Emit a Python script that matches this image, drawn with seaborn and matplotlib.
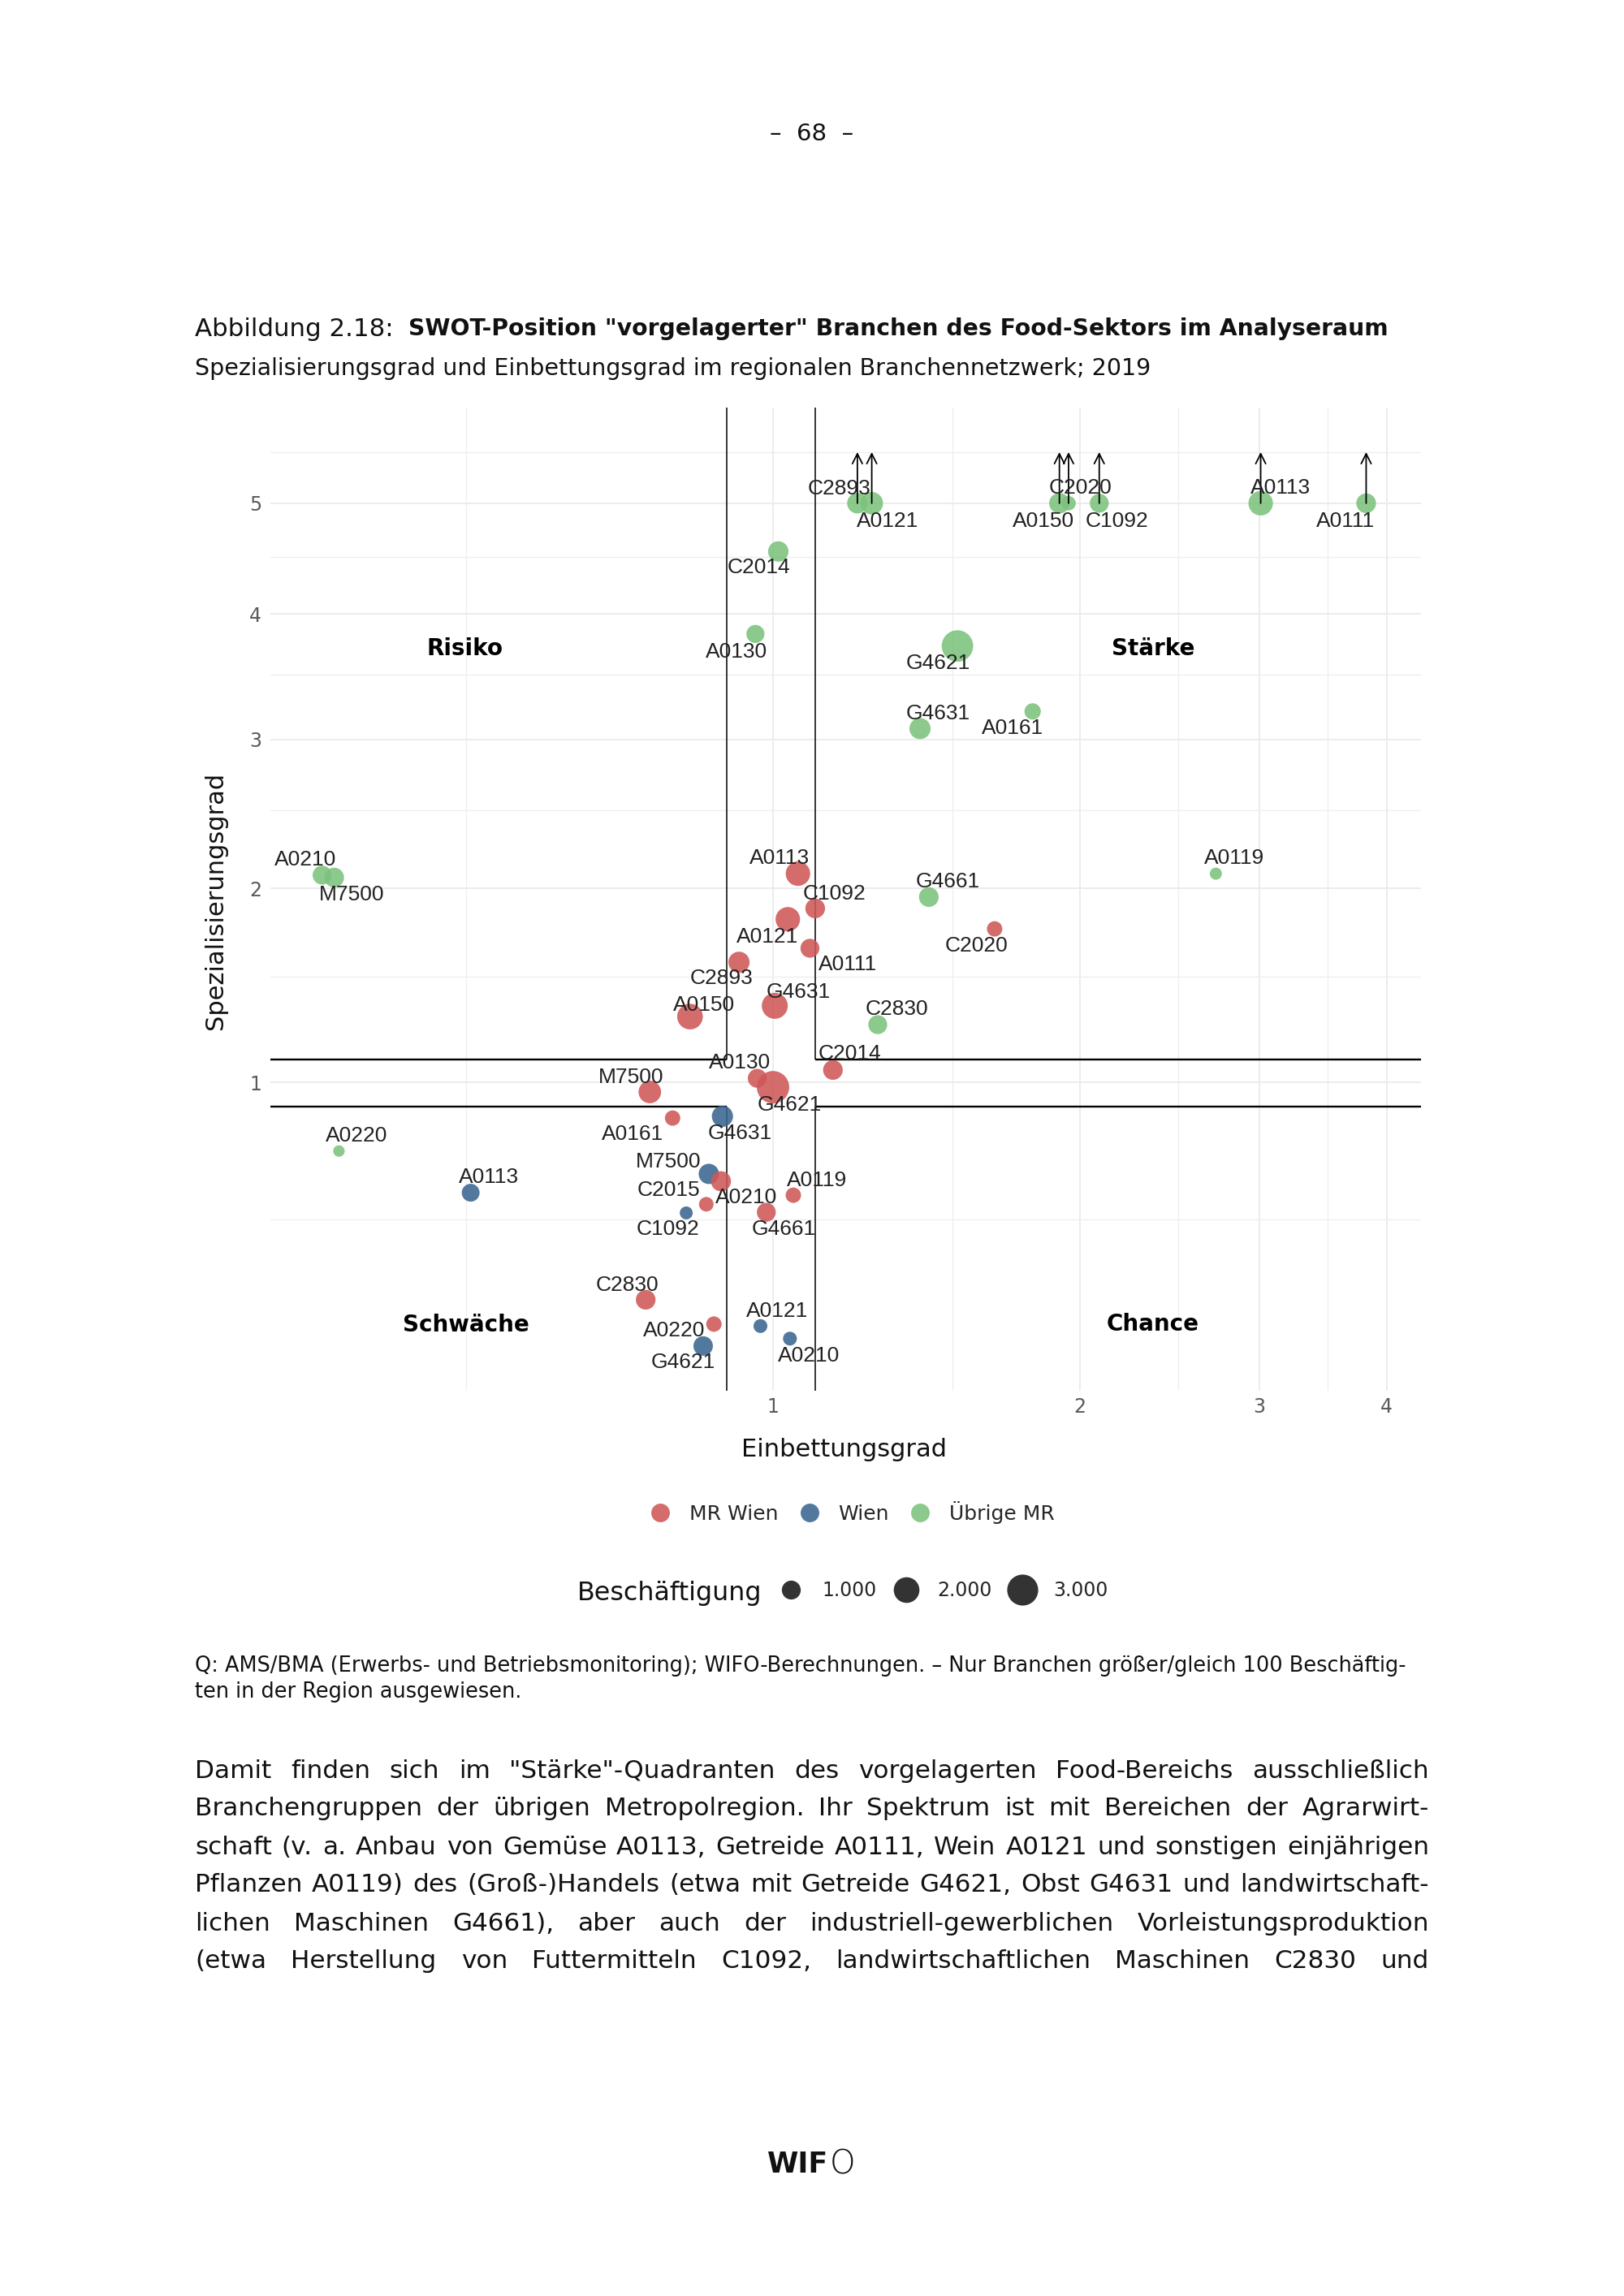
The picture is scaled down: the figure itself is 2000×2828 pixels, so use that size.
import numpy as np
import pandas as pd
import matplotlib
matplotlib.use("Agg")
import matplotlib.pyplot as plt
import seaborn as sns
from matplotlib.lines import Line2D
from matplotlib.ticker import FixedLocator, FixedFormatter, NullFormatter

# ---------------- data ----------------
groups = ["Wien", "MR Wien", "Übrige MR"]

wien_names = ["G4631", "A0113", "M7500", "C1092", "A0121", "A0210", "G4621"]
wien_einb = [0.892, 0.505, 0.865, 0.822, 0.972, 1.039, 0.854]
wien_spez = [0.860, 0.584, 0.647, 0.520, 0.230, 0.205, 0.191]
wien_emp = [1300, 870, 1180, 370, 450, 450, 1070]

mr_names = ["A0113", "C1092", "A0121", "A0111", "C2893", "G4631", "A0150", "C2020",
            "C2014", "A0130", "G4621", "M7500", "A0161", "A0210", "C2015", "A0119",
            "G4661", "C2830", "A0220"]
mr_einb = [1.058, 1.100, 1.034, 1.087, 0.926, 1.004, 0.829, 1.650, 1.145, 0.965,
           1.000, 0.757, 0.797, 0.889, 0.860, 1.047, 0.985, 0.750, 0.875]
mr_spez = [2.089, 1.880, 1.817, 1.654, 1.578, 1.353, 1.300, 1.762, 1.053, 1.017,
           0.979, 0.959, 0.853, 0.622, 0.547, 0.576, 0.522, 0.287, 0.234]
mr_emp = [1800, 1100, 1800, 1000, 1300, 2050, 2000, 600, 1100, 1000,
          3300, 1500, 600, 1150, 520, 600, 1000, 1100, 600]

ub_names = ["C2893", "A0121", "A0150", "C2020", "C1092", "A0113", "A0111", "C2014",
            "A0130", "G4621", "G4631", "A0161", "A0210", "M7500", "G4661", "A0119",
            "C2830", "A0220"]
ub_einb = [1.21, 1.25, 1.91, 1.95, 2.09, 3.01, 3.82, 1.012, 0.961, 1.517, 1.394,
           1.798, 0.361, 0.371, 1.422, 2.72, 1.267, 0.375]
# values above the cap (5) are shown at the cap with an arrow
ub_spez = [5.0, 5.0, 5.0, 5.0, 5.0, 5.0, 5.0, 4.55, 3.83, 3.73, 3.08, 3.21,
           2.08, 2.065, 1.947, 2.089, 1.261, 0.728]
ub_over = [True] * 7 + [False] * 11
ub_emp = [1200, 1500, 1200, 500, 1000, 1800, 1100, 1200, 900, 3100, 1300, 700,
          1000, 1100, 1100, 300, 1000, 250]

x_ticks = [1, 2, 3, 4]
x_minor = [0.5, 1.5, 2.5, 3.5]
y_ticks = [1, 2, 3, 4, 5]
y_minor = [0.5, 1.5, 2.5, 3.5, 4.5, 5.5]
legend_emp = [1000, 2000, 3000]
legend_emp_labels = ["1.000", "2.000", "3.000"]

# ---------------- layout (label offsets in px: dx right, dy down) ----------------
off_wien = [(21, 21), (22, -19), (-50, -15), (-23, 20), (21, -18), (23, 21), (-25, 20)]
off_mr = [(-23, -19), (24, -18), (-25, 22), (47, 20), (-22, 20), (29, -17), (17, -14),
          (-22, 21), (21, -20), (-22, -19), (20, 22), (-23, -18), (-49, 20), (31, 20),
          (-46, -17), (29, -18), (21, 21), (-23, -18), (-49, 8)]
off_ub = [(-22, -18), (19, 22), (-20, 22), (15, -19), (22, 22), (24, -19), (-25, 22),
          (-24, 20), (-23, 22), (-24, 21), (22, -18), (-25, 21), (-21, -19), (22, 21),
          (23, -19), (23, -19), (23, -19), (22, -19)]

CAP, ARROW_TOP = 5.0, 5.5
LO, HI = 0.9, 1.1
XLIM = (0.3212, 4.324)
YLIM = (0.1166, 5.955)

RED, BLUE, GREEN = "#D05858", "#3A6690", "#7CC27C"
palette = {"MR Wien": RED, "Wien": BLUE, "Übrige MR": GREEN}
EMP_NORM = (0, 4000)
S_RANGE = (44.1, 44.1 + 0.2372 * 4000)   # marker area (pt^2)
ALPHA = 0.88

W, H = 2000, 2828
PX = 100 / 72.0

sns.set_style("white")
plt.rcParams["font.family"] = ["DejaVu Sans"]

fig = plt.figure(figsize=(W / 100, H / 100), dpi=100)
fig.patch.set_facecolor("white")
ax = fig.add_axes([333 / W, 1 - 1713 / H, 1417 / W, 1211 / H])

df = pd.DataFrame({
    "group": ["Wien"] * len(wien_names) + ["MR Wien"] * len(mr_names) + ["Übrige MR"] * len(ub_names),
    "name": wien_names + mr_names + ub_names,
    "einb": wien_einb + mr_einb + ub_einb,
    "spez": wien_spez + mr_spez + ub_spez,
    "emp": wien_emp + mr_emp + ub_emp,
    "over": [False] * len(wien_names) + [False] * len(mr_names) + ub_over,
})
offsets = off_wien + off_mr + off_ub

ax.set_xscale("log")
ax.set_yscale("function", functions=(lambda v: np.sqrt(np.clip(v, 0, None)), np.square))

sns.scatterplot(data=df, x="einb", y="spez", hue="group", palette=palette,
                size="emp", sizes=S_RANGE, size_norm=EMP_NORM,
                alpha=ALPHA, linewidth=0, legend=False, ax=ax, zorder=3)

ax.set_xlim(*XLIM)
ax.set_ylim(*YLIM)

ax.xaxis.set_major_locator(FixedLocator(x_ticks))
ax.xaxis.set_major_formatter(FixedFormatter([str(t) for t in x_ticks]))
ax.xaxis.set_minor_locator(FixedLocator(x_minor))
ax.xaxis.set_minor_formatter(NullFormatter())
ax.yaxis.set_major_locator(FixedLocator(y_ticks))
ax.yaxis.set_major_formatter(FixedFormatter([str(t) for t in y_ticks]))
ax.yaxis.set_minor_locator(FixedLocator(y_minor))
ax.yaxis.set_minor_formatter(NullFormatter())

ax.grid(which="major", color="#EBEBEB", lw=1.3)
ax.grid(which="minor", color="#EEEEEE", lw=0.9)
ax.set_axisbelow(True)
for s in ax.spines.values():
    s.set_visible(False)
ax.tick_params(which="both", length=0)
ax.tick_params(axis="y", pad=8, labelsize=17, labelcolor="#5A5A5A")
ax.tick_params(axis="x", pad=6, labelsize=17, labelcolor="#5A5A5A")
ax.set_xlabel("")
ax.set_ylabel("")

# quadrant boundaries
hkw = dict(color="black", lw=1.7, zorder=2, solid_capstyle="butt")
vkw = dict(color="black", lw=1.1, zorder=2, solid_capstyle="butt")
ax.plot([XLIM[0], LO], [HI, HI], **hkw)
ax.plot([HI, XLIM[1]], [HI, HI], **hkw)
ax.plot([XLIM[0], LO], [LO, LO], **hkw)
ax.plot([HI, XLIM[1]], [LO, LO], **hkw)
ax.plot([LO, LO], [HI, YLIM[1]], **vkw)
ax.plot([HI, HI], [HI, YLIM[1]], **vkw)
ax.plot([LO, LO], [YLIM[0], LO], **vkw)
ax.plot([HI, HI], [YLIM[0], LO], **vkw)

# arrows for capped values
for _, r in df[df["over"]].iterrows():
    ax.annotate("", xy=(r["einb"], ARROW_TOP), xytext=(r["einb"], CAP),
                arrowprops=dict(arrowstyle="->", lw=1.3, color="black",
                                mutation_scale=22, shrinkA=0, shrinkB=0),
                zorder=4)

# point labels
for (_, r), (dx, dy) in zip(df.iterrows(), offsets):
    ax.annotate(r["name"], (r["einb"], r["spez"]), xytext=(dx / PX, -dy / PX),
                textcoords="offset points", ha="center", va="center",
                fontsize=19, family="Liberation Sans", color="#222222", zorder=5)

# quadrant names
quad = [("Risiko", 0.498, 3.71), ("Stärke", 2.36, 3.71),
        ("Schwäche", 0.50, 0.232), ("Chance", 2.36, 0.234)]
for s, qx, qy in quad:
    ax.text(qx, qy, s, ha="center", va="center", fontsize=20, fontweight="bold",
            color="black", zorder=5)

# ---------------- page texts ----------------
renderer = fig.canvas.get_renderer()


def tw(t):
    return t.get_window_extent(renderer=renderer).width


def fit_text(x, y, s, target, fs, **kw):
    t = fig.text(x / W, 1 - y / H, s, fontsize=fs, va="center_baseline", **kw)
    t.set_fontsize(fs * target / tw(t))
    return t


fig.text(1000 / W, 1 - 162 / H, "–  68  –", ha="center", va="center_baseline",
         fontsize=21, color="#111111")

fit_text(240, 402, "Abbildung 2.18:", 245, 20, color="#111111")
fit_text(503, 402, 'SWOT-Position "vorgelagerter" Branchen des Food-Sektors im Analyseraum',
         1207, 20, fontweight="bold", color="#111111")
fit_text(240, 451, "Spezialisierungsgrad und Einbettungsgrad im regionalen Branchennetzwerk; 2019",
         1179, 17, color="#111111")

# axis titles
fig.text(1040 / W, 1 - 1785 / H, "Einbettungsgrad", ha="center", va="center",
         fontsize=22, color="#111111")
fig.text(265 / W, 1 - 1109 / H, "Spezialisierungsgrad", ha="center", va="center",
         rotation=90, fontsize=22, color="#111111")

# colour legend
h1 = [Line2D([0], [0], marker="o", linestyle="", markersize=16.5,
             markerfacecolor=palette[g], markeredgewidth=0, alpha=ALPHA, label=g)
      for g in ["MR Wien", "Wien", "Übrige MR"]]
fig.legend(handles=h1, loc="center left", bbox_to_anchor=(800.5 / W, 1 - 1863 / H),
           ncol=3, frameon=False, prop={"family": "DejaVu Sans", "size": 18},
           handlelength=1.0, handletextpad=0.94, columnspacing=1.02,
           borderpad=0, borderaxespad=0)

# size legend
fit_text(711, 1959, "Beschäftigung", 227, 20, color="#111111")
h2 = []
for e, lab in zip(legend_emp, legend_emp_labels):
    s = S_RANGE[0] + (e - EMP_NORM[0]) / (EMP_NORM[1] - EMP_NORM[0]) * (S_RANGE[1] - S_RANGE[0])
    h2.append(Line2D([0], [0], marker="o", linestyle="", markersize=np.sqrt(s),
                     markerfacecolor="#333333", markeredgewidth=0, label=lab))
fig.legend(handles=h2, loc="center left", bbox_to_anchor=(954 / W, 1 - 1959 / H),
           ncol=3, frameon=False, prop={"family": "DejaVu Sans", "size": 17},
           handlelength=1.7, handletextpad=0.76, columnspacing=0.72,
           borderpad=0, borderaxespad=0)

# source note
src1 = ("Q: AMS/BMA (Erwerbs- und Betriebsmonitoring); WIFO-Berechnungen. – "
        "Nur Branchen größer/gleich 100 Beschäftig-")
t1 = fit_text(240, 2049, src1, 1495, 14, color="#111111")
fig.text(240 / W, 1 - 2081 / H, "ten in der Region ausgewiesen.", va="center_baseline",
         fontsize=t1.get_fontsize(), color="#111111")

# body paragraph (justified)
body = [
    'Damit finden sich im "Stärke"-Quadranten des vorgelagerten Food-Bereichs ausschließlich',
    "Branchengruppen der übrigen Metropolregion. Ihr Spektrum ist mit Bereichen der Agrarwirt-",
    "schaft (v. a. Anbau von Gemüse A0113, Getreide A0111, Wein A0121 und sonstigen einjährigen",
    "Pflanzen A0119) des (Groß-)Handels (etwa mit Getreide G4621, Obst G4631 und landwirtschaft-",
    "lichen Maschinen G4661), aber auch der industriell-gewerblichen Vorleistungsproduktion",
    "(etwa Herstellung von Futtermitteln C1092, landwirtschaftlichen Maschinen C2830 und",
]
X0, X1 = 240, 1760
fs = 22
probe = [fig.text(0, 0, ln, fontsize=fs) for ln in body]
nat = max(tw(p) for p in probe)
for p in probe:
    p.remove()
fs = fs * (X1 - X0) / nat * 0.985
for i, ln in enumerate(body):
    y = 2178 + 47 * i
    words = ln.split(" ")
    ts = [fig.text(0, 0, w, fontsize=fs, va="center_baseline", color="#111111") for w in words]
    ws = [tw(t) for t in ts]
    gap = (X1 - X0 - sum(ws)) / (len(words) - 1)
    x = X0
    for t, w in zip(ts, ws):
        t.set_position((x / W, 1 - y / H))
        x += w + gap

# logo
fig.text(1020 / W, 1 - 2662 / H, "WIF", fontsize=25, fontweight="bold",
         va="center_baseline", ha="right", color="#111111")
fig.text(1022 / W, 1 - 2662 / H, "O", fontsize=29, fontweight="light",
         va="center_baseline", ha="left", color="#111111")

fig.savefig("out.png", dpi=100, facecolor="white")
